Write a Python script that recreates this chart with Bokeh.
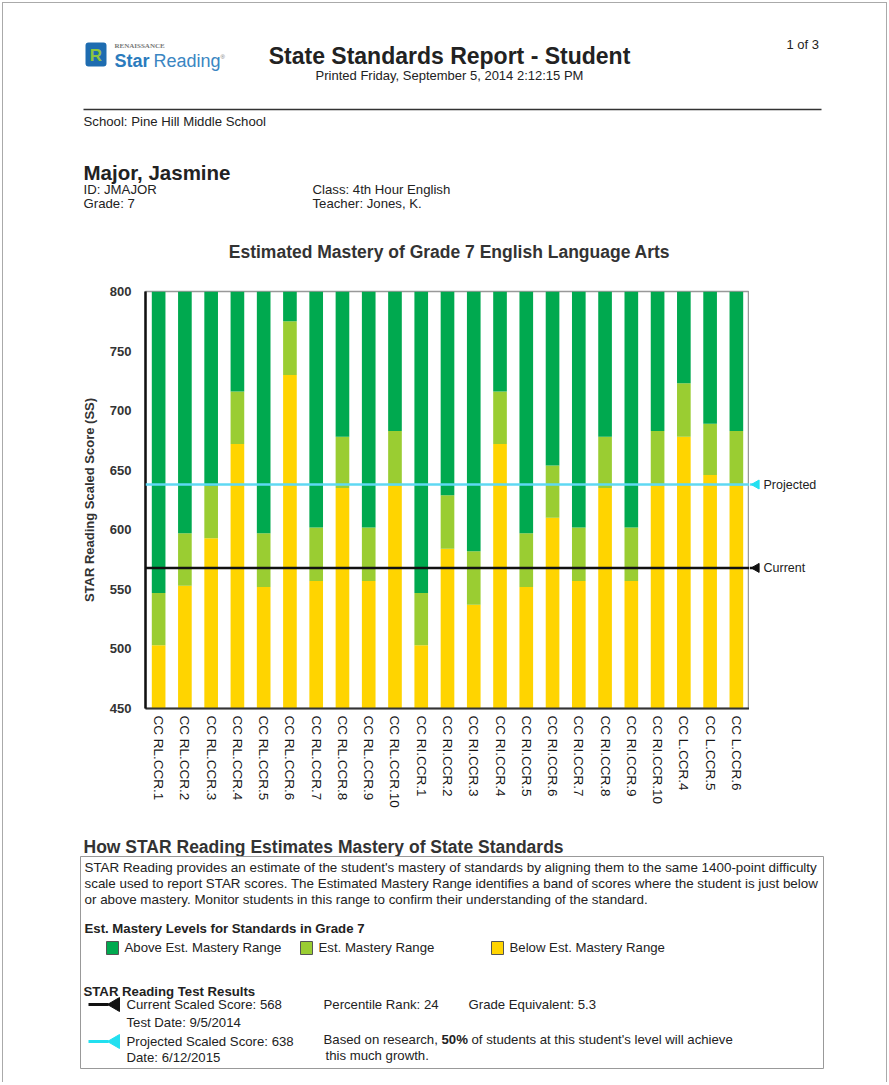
import numpy as np
from bokeh.plotting import figure
from bokeh.models import FactorRange, Range1d, Span, FixedTicker
from bokeh.layouts import column, row
from bokeh.core.properties import value
from bokeh.embed import file_html
from bokeh.resources import INLINE

# ---------------- data ----------------
standards = [
    "CC RL.CCR.1", "CC RL.CCR.2", "CC RL.CCR.3", "CC RL.CCR.4", "CC RL.CCR.5",
    "CC RL.CCR.6", "CC RL.CCR.7", "CC RL.CCR.8", "CC RL.CCR.9", "CC RL.CCR.10",
    "CC RI.CCR.1", "CC RI.CCR.2", "CC RI.CCR.3", "CC RI.CCR.4", "CC RI.CCR.5",
    "CC RI.CCR.6", "CC RI.CCR.7", "CC RI.CCR.8", "CC RI.CCR.9", "CC RI.CCR.10",
    "CC L.CCR.4", "CC L.CCR.5", "CC L.CCR.6",
]
# lower edge of the estimated mastery range (top of "below" band)
mastery_low = [503, 553, 593, 672, 552, 730, 557, 635, 557, 637,
               503, 584, 537, 672, 552, 610, 557, 635, 557, 637,
               678, 646, 637]
# upper edge of the estimated mastery range (bottom of "above" band)
mastery_high = [547, 597, 637, 716, 597, 775, 602, 678, 602, 683,
                547, 629, 582, 716, 597, 654, 602, 678, 602, 683,
                723, 689, 683]
y_min, y_max = 450, 800
y_ticks = [450, 500, 550, 600, 650, 700, 750, 800]
score_names = ["Projected", "Current"]
score_values = [638, 568]

FONT = "Liberation Sans"
OX, OY = 3, 3            # page offset of the content (margin + border)
W = 883
DARK_GREEN = "#00a94f"
LIGHT_GREEN = "#9acd32"
YELLOW = "#ffd400"
CYAN_LINE = "#5fd8f3"
CYAN = "#22e0f0"
BLACK = "#111111"
score_colors = [CYAN_LINE, BLACK]
marker_colors = [CYAN, BLACK]
BODY = 13.2


def page_fig(h, y0):
    p = figure(width=W, height=h, x_range=Range1d(OX, OX + W), y_range=Range1d(y0 + h, y0),
               output_backend="svg", toolbar_location=None, min_border=0,
               x_axis_location=None, y_axis_location=None, frame_align=False)
    p.grid.visible = False
    p.outline_line_color = None
    return p


def txt(p, x, y, s, size, bold=False, align="left", color="#222222", font=FONT):
    p.text(x=[x], y=[y], text=[s], text_font=value(font), text_font_size=f"{size}px",
           text_font_style="bold" if bold else "normal", text_align=align,
           text_baseline="middle", text_color=color)


# ---------------- header ----------------
H1_TOP = OY
H1 = 280 - OY
hdr = page_fig(H1, H1_TOP)
hdr.quad(left=85, right=106, top=42, bottom=66, fill_color="#1e6cb0", line_color=None, border_radius=3)
txt(hdr, 95.5, 55, "R", 17, bold=True, align="center", color="#8dc63f")
txt(hdr, 114, 45, "RENAISSANCE", 7, bold=True, color="#777777", font="Liberation Serif")
txt(hdr, 114, 60, "Star", 18, bold=True, color="#2b7bbd")
txt(hdr, 153, 60, "Reading", 18, color="#3a86c2")
txt(hdr, 220, 56, "®", 6, color="#777777")
txt(hdr, 449, 55, "State Standards Report - Student", 23, bold=True, align="center", color="#222222")
txt(hdr, 449, 75, "Printed Friday, September 5, 2014 2:12:15 PM", 13, align="center")
txt(hdr, 786, 44, "1 of 3", 13)
hdr.segment(x0=[83], y0=[109], x1=[821], y1=[109], line_color="#333333", line_width=1.5)
txt(hdr, 83, 121, "School: Pine Hill Middle School", BODY)
txt(hdr, 83, 172, "Major, Jasmine", 20.5, bold=True)
txt(hdr, 83, 189, "ID: JMAJOR", BODY)
txt(hdr, 83, 203, "Grade: 7", BODY)
txt(hdr, 312, 189, "Class: 4th Hour English", BODY)
txt(hdr, 312, 203, "Teacher: Jones, K.", BODY)
txt(hdr, 449, 251, "Estimated Mastery of Grade 7 English Language Arts", 17.5, bold=True, align="center", color="#333333")

# ---------------- chart ----------------
H2 = 546
FRAME_L, FRAME_R = 145, 749
MB_TOP, MB_BOT = 11, 118
CH_W = FRAME_R - OX
ch = figure(width=CH_W, height=H2, x_range=FactorRange(factors=standards), y_range=Range1d(y_min, y_max),
            output_backend="svg", toolbar_location=None, frame_align=False,
            min_border_left=FRAME_L - OX, min_border_right=0, min_border_top=MB_TOP, min_border_bottom=MB_BOT)
ch.vbar(x=standards, bottom=y_min, top=mastery_low, width=0.52, fill_color=YELLOW, line_color=None)
ch.vbar(x=standards, bottom=mastery_low, top=mastery_high, width=0.52, fill_color=LIGHT_GREEN, line_color=None)
ch.vbar(x=standards, bottom=mastery_high, top=y_max, width=0.52, fill_color=DARK_GREEN, line_color=None)
for sv, sc in zip(score_values, score_colors):
    ch.add_layout(Span(location=sv, dimension="width", line_color=sc, line_width=2.5))

ch.grid.visible = False
ch.outline_line_color = "#999999"
ch.outline_line_width = 1.5

ya = ch.yaxis[0]
ya.ticker = FixedTicker(ticks=y_ticks)
ya.major_label_text_font = FONT
ya.major_label_text_font_size = "13px"
ya.major_label_text_font_style = "bold"
ya.major_label_text_color = "#333333"
ya.major_label_standoff = 8
ya.axis_line_color = BLACK
ya.axis_line_width = 2.5
ya.major_tick_line_color = None
ya.minor_tick_line_color = None
ya.axis_label = "STAR Reading Scaled Score (SS)"
ya.axis_label_text_font = FONT
ya.axis_label_text_font_size = "13px"
ya.axis_label_text_font_style = "bold"
ya.axis_label_text_color = "#333333"
ya.axis_label_standoff = 10

xa = ch.xaxis[0]
xa.major_label_orientation = "vertical"
xa.major_label_text_font = FONT
xa.major_label_text_font_size = "13.5px"
xa.major_label_text_color = "#151515"
xa.major_label_standoff = 1
xa.axis_line_color = "#333333"
xa.axis_line_width = 2
xa.major_tick_line_color = None
xa.minor_tick_line_color = None

# side panel with the score markers, sharing the chart's y scale
SIDE_W = W - CH_W
side = figure(width=SIDE_W, height=H2, x_range=Range1d(0, SIDE_W), y_range=ch.y_range,
              output_backend="svg", toolbar_location=None, frame_align=False,
              min_border_left=0, min_border_right=0, min_border_top=MB_TOP, min_border_bottom=MB_BOT,
              x_axis_location=None, y_axis_location=None)
side.grid.visible = False
side.outline_line_color = None
side.segment(x0=[0, 0], y0=score_values, x1=[5, 5], y1=score_values, line_color=score_colors, line_width=2.5)
side.scatter(x=[7, 7], y=score_values, marker="triangle", angle=np.pi / 2, size=9,
             fill_color=marker_colors, line_color=marker_colors)
side.text(x=[14, 14], y=score_values, text=score_names, text_font=value(FONT), text_font_size="12.5px",
          text_color="#222222", text_baseline="middle", text_align="left")

# ---------------- footer ----------------
H3_TOP = 280 + H2
H3 = 1082 - H3_TOP
ftr = page_fig(H3, H3_TOP)
txt(ftr, 83, 846, "How STAR Reading Estimates Mastery of State Standards", 17.5, bold=True, color="#333333")
ftr.quad(left=80, right=823, top=856, bottom=1068, fill_color=None, line_color="#999999", line_width=1)
PARA = 13.4
txt(ftr, 84, 867, "STAR Reading provides an estimate of the student's mastery of standards by aligning them to the same 1400-point difficulty", PARA)
txt(ftr, 84, 883, "scale used to report STAR scores. The Estimated Mastery Range identifies a band of scores where the student is just below", PARA)
txt(ftr, 84, 899, "or above mastery. Monitor students in this range to confirm their understanding of the standard.", PARA)
txt(ftr, 84, 928, "Est. Mastery Levels for Standards in Grade 7", 13.2, bold=True)

for lx, colr, label in [(106, DARK_GREEN, "Above Est. Mastery Range"),
                        (300, LIGHT_GREEN, "Est. Mastery Range"),
                        (491, YELLOW, "Below Est. Mastery Range")]:
    ftr.quad(left=lx, right=lx + 12, top=941, bottom=954, fill_color=colr, line_color="#555555", line_width=1)
    txt(ftr, lx + 18, 947, label, BODY)

txt(ftr, 83, 991, "STAR Reading Test Results", 13.2, bold=True)
for yy, colr in [(1004, BLACK), (1041, CYAN)]:
    ftr.segment(x0=[88], y0=[yy], x1=[108], y1=[yy], line_color=colr, line_width=3)
    ftr.patch(x=[107, 119, 119], y=[yy, yy - 7, yy + 7], fill_color=colr, line_color=colr)
txt(ftr, 126, 1004, "Current Scaled Score: 568", BODY)
txt(ftr, 126, 1022, "Test Date: 9/5/2014", BODY)
txt(ftr, 126, 1041, "Projected Scaled Score: 638", BODY)
txt(ftr, 126, 1057, "Date: 6/12/2015", BODY)
txt(ftr, 323, 1004, "Percentile Rank: 24", BODY)
txt(ftr, 468, 1004, "Grade Equivalent: 5.3", BODY)
txt(ftr, 323, 1039, "Based on research,", 13.2)
txt(ftr, 441, 1039, "50%", 13.2, bold=True)
txt(ftr, 471, 1039, "of students at this student's level will achieve", 13.2)
txt(ftr, 325, 1055, "this much growth.", 13.2)

layout = column(hdr, row(ch, side), ftr,
                styles={"border-left": "1px solid #aaaaaa", "border-top": "1px solid #aaaaaa",
                        "border-right": "1px solid #aaaaaa", "margin-left": "2px", "margin-top": "2px"})

open("out.html", "w").write(file_html(layout, INLINE))
